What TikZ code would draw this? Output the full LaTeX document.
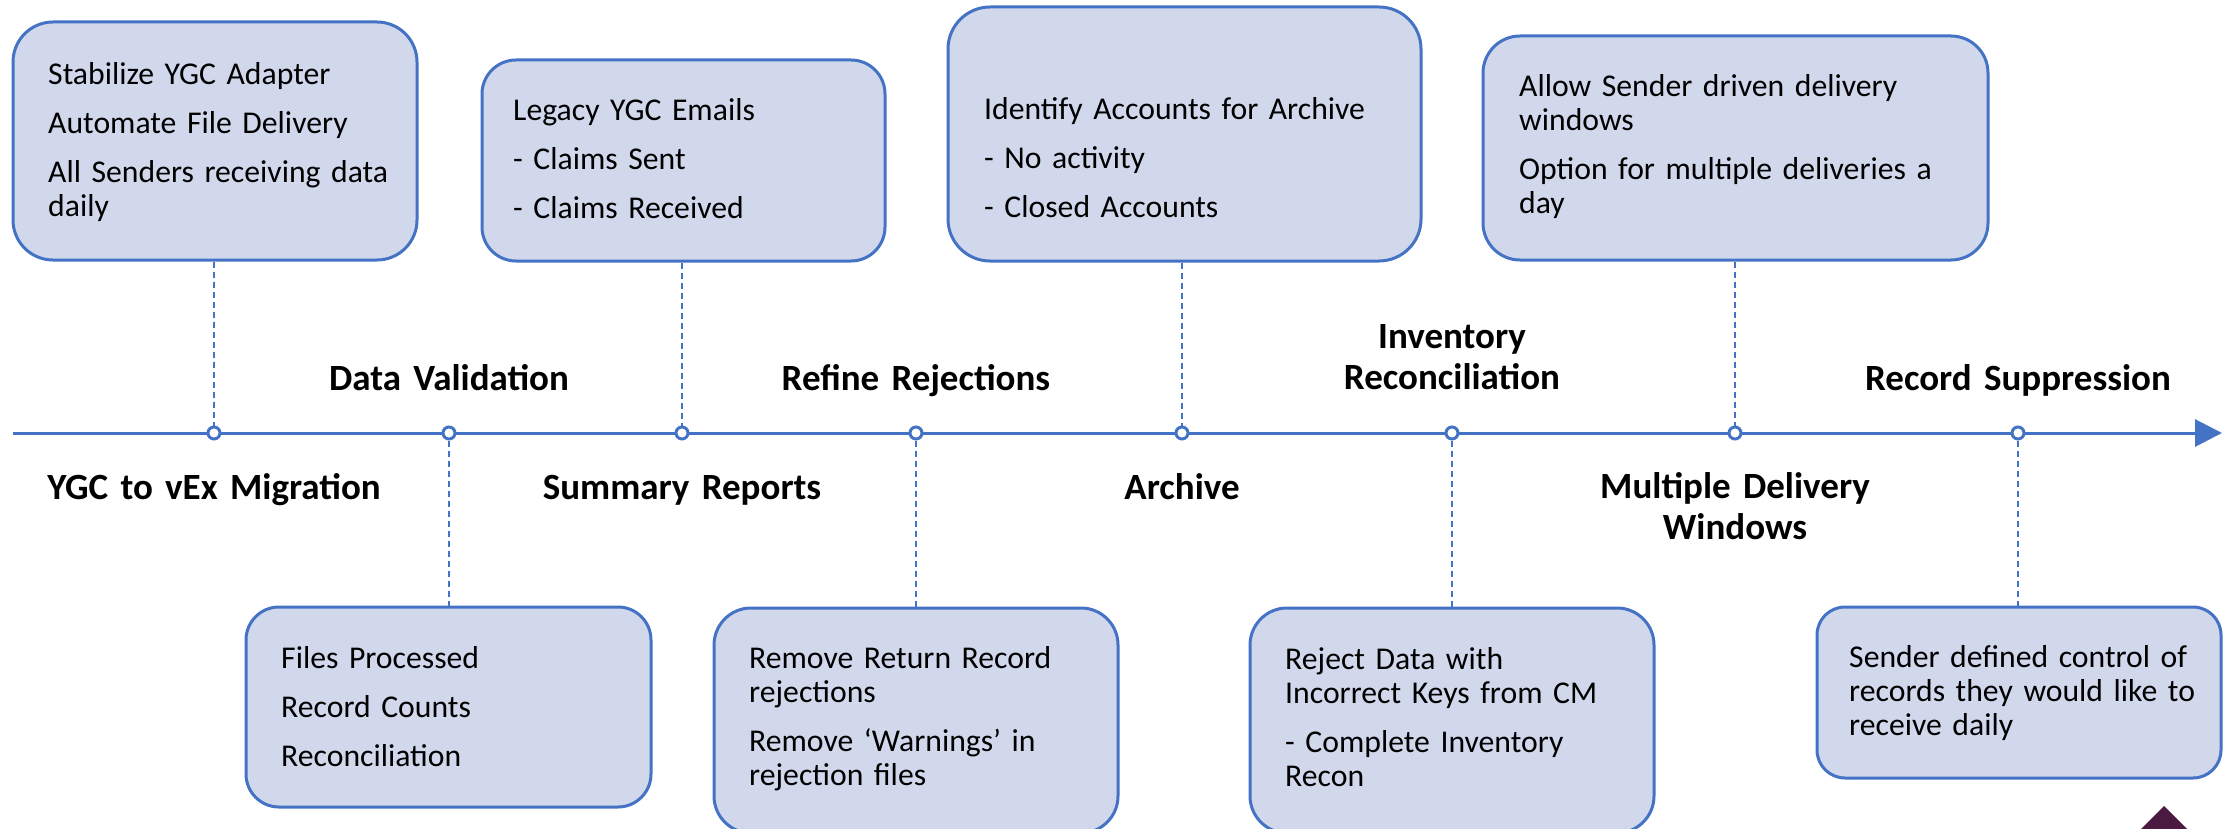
\documentclass[tikz,border=0pt]{standalone}
\usepackage{fontspec}
\setmainfont{Carlito}
\usetikzlibrary{arrows.meta}
\definecolor{tlblue}{RGB}{68,114,196}
\definecolor{boxfill}{RGB}{209,216,236}
\definecolor{plum}{RGB}{75,26,64}
\tikzset{
  box/.style={draw=tlblue, line width=3pt, fill=boxfill, inner sep=0pt},
  txt/.style={inner sep=0pt, align=left, text width=460pt, anchor=base west,
    font=\fontsize{31.7}{34}\selectfont},
  lbl/.style={inner sep=0pt, align=center, text width=520pt, anchor=base,
    font=\bfseries\fontsize{37}{41.5}\selectfont},
  dot/.style={circle, draw=tlblue, line width=3pt, fill=white, minimum size=12pt, inner sep=0pt},
  conn/.style={draw=tlblue, line width=1.5pt, dash pattern=on 6pt off 4pt},
}
\begin{document}
\begin{tikzpicture}[x=1pt,y=-1pt]
\useasboundingbox (0,0) rectangle (2233,829);
\clip (0,0) rectangle (2233,829);
% timeline
\coordinate (tlstart) at (13,433);
\coordinate (tlend) at (2222,433);
\draw[tlblue, line width=3pt, -{Triangle[length=27pt,width=27pt]}] (tlstart) -- (tlend);
% milestone circles
\node[dot] (c1) at (214,433) {};
\node[dot] (c2) at (449,433) {};
\node[dot] (c3) at (682,433) {};
\node[dot] (c4) at (916,433) {};
\node[dot] (c5) at (1182,433) {};
\node[dot] (c6) at (1452,433) {};
\node[dot] (c7) at (1735,433) {};
\node[dot] (c8) at (2018,433) {};
% top boxes
\node[box, minimum width=404pt, minimum height=238pt, rounded corners=40pt] (b1) at (215,141) {};
\node[box, minimum width=403pt, minimum height=201pt, rounded corners=34pt] (b2) at (683.5,160.5) {};
\node[box, minimum width=473pt, minimum height=254pt, rounded corners=42pt] (b3) at (1184.5,134) {};
\node[box, minimum width=505pt, minimum height=224pt, rounded corners=37pt] (b4) at (1735.5,148) {};
% bottom boxes
\node[box, minimum width=405pt, minimum height=200pt, rounded corners=33pt] (d1) at (448.5,707) {};
\node[box, minimum width=404pt, minimum height=225pt, rounded corners=37pt] (d2) at (916,720.5) {};
\node[box, minimum width=404pt, minimum height=225pt, rounded corners=37pt] (d3) at (1452,720.5) {};
\node[box, minimum width=404pt, minimum height=171pt, rounded corners=28pt] (d4) at (2019,692.5) {};
% connectors
\draw[conn] (c1 |- b1.south) -- (c1.north);
\draw[conn] (c3 |- b2.south) -- (c3.north);
\draw[conn] (c5 |- b3.south) -- (c5.north);
\draw[conn] (c7 |- b4.south) -- (c7.north);
\draw[conn] (c2.south) -- (c2 |- d1.north);
\draw[conn] (c4.south) -- (c4 |- d2.north);
\draw[conn] (c6.south) -- (c6 |- d3.north);
\draw[conn] (c8.south) -- (c8 |- d4.north);
% box texts
\node[txt] (t1) at (48,85) {Stabilize YGC Adapter\\[15pt]Automate File Delivery\\[15pt]All Senders receiving data\\daily};
\node[txt] (t2) at (513,121) {Legacy YGC Emails\\[15pt]- Claims Sent\\[15pt]- Claims Received};
\node[txt] (t3) at (984,120) {Identify Accounts for Archive\\[15pt]- No activity\\[15pt]- Closed Accounts};
\node[txt] (t4) at (1519,97) {Allow Sender driven delivery\\windows\\[15pt]Option for multiple deliveries a\\day};
\node[txt] (t5) at (281,668) {Files Processed\\[15pt]Record Counts\\[15pt]Reconciliation};
\node[txt] (t6) at (749,668) {Remove Return Record\\rejections\\[15pt]Remove `Warnings' in\\rejection files};
\node[txt] (t7) at (1285,669) {Reject Data with\\Incorrect Keys from CM\\[15pt]- Complete Inventory\\Recon};
\node[txt] (t8) at (1849,667) {Sender defined control of\\records they would like to\\receive daily};
% milestone labels
\node[lbl] (l1) at (214,499) {YGC to vEx Migration};
\node[lbl] (l2) at (449,390) {Data Validation};
\node[lbl] (l3) at (682,499) {Summary Reports};
\node[lbl] (l4) at (916,390) {Refine Rejections};
\node[lbl] (l5) at (1182,499) {Archive};
\node[lbl] (l6) at (1452,348) {Inventory\\Reconciliation};
\node[lbl] (l7) at (1735,498) {Multiple Delivery\\Windows};
\node[lbl] (l8) at (2018,390) {Record Suppression};
% corner mark
\fill[plum] (2164,806) -- (2204,846) -- (2164,886) -- (2124,846) -- cycle;
\end{tikzpicture}
\end{document}
